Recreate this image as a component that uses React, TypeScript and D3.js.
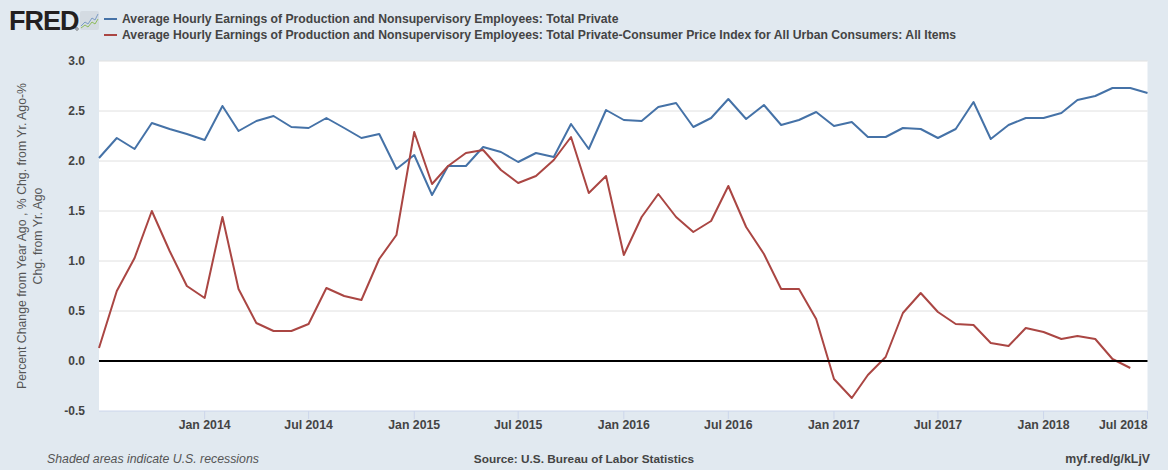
import * as d3 from "d3";

const W = 1168;
const H = 470;

// months Jul 2013 .. Jul 2018
const startMonth = new Date(2013, 6, 1);
const months: Date[] = d3.timeMonth.range(startMonth, new Date(2018, 7, 1));

const earnings: number[] = [
  2.03, 2.23, 2.12, 2.38, 2.32, 2.27,
  2.21, 2.55, 2.30, 2.40, 2.45, 2.34, 2.33, 2.43, 2.33, 2.23, 2.27, 1.92,
  2.06, 1.66, 1.95, 1.95, 2.14, 2.09, 1.99, 2.08, 2.04, 2.37, 2.12, 2.51,
  2.41, 2.40, 2.54, 2.58, 2.34, 2.43, 2.62, 2.42, 2.56, 2.36, 2.41, 2.49,
  2.35, 2.39, 2.24, 2.24, 2.33, 2.32, 2.23, 2.32, 2.59, 2.22, 2.36, 2.43,
  2.43, 2.48, 2.61, 2.65, 2.73, 2.73, 2.68,
];

const realEarnings: number[] = [
  0.13, 0.70, 1.03, 1.50, 1.10, 0.75,
  0.63, 1.44, 0.72, 0.38, 0.30, 0.30, 0.37, 0.73, 0.65, 0.61, 1.02, 1.26,
  2.29, 1.77, 1.95, 2.08, 2.11, 1.91, 1.78, 1.85, 2.01, 2.24, 1.68, 1.85,
  1.06, 1.44, 1.67, 1.44, 1.29, 1.40, 1.75, 1.34, 1.07, 0.72, 0.72, 0.42,
  -0.18, -0.37, -0.14, 0.04, 0.48, 0.68, 0.49, 0.37, 0.36, 0.18, 0.15, 0.33,
  0.29, 0.22, 0.25, 0.22, 0.02, -0.07,
];

const yTicks: number[] = [-0.5, 0, 0.5, 1.0, 1.5, 2.0, 2.5, 3.0];

const seriesNames: string[] = [
  "Average Hourly Earnings of Production and Nonsupervisory Employees: Total Private",
  "Average Hourly Earnings of Production and Nonsupervisory Employees: Total Private-Consumer Price Index for All Urban Consumers: All Items",
];

const yTitle: string[] = [
  "Percent Change from Year Ago , % Chg. from Yr. Ago-%",
  "Chg. from Yr. Ago",
];

const BLUE = "#4572a7";
const RED = "#aa4643";
const TEXT = "#444";
const FONT = "'Liberation Sans', Arial, sans-serif";

const App = () => {
  const left = 99;
  const right = 1147.5;
  const top = 61;
  const bottom = 411;

  const x = d3
    .scaleTime()
    .domain([startMonth, new Date(2018, 6, 1)])
    .range([left, right]);

  const y = d3.scaleLinear().domain([-0.5, 3.0]).range([bottom, top]);

  const xTicks = d3.timeMonth.every(6)!.range(new Date(2014, 0, 1), new Date(2018, 7, 1));
  const fmt = d3.timeFormat("%b %Y");

  const line = d3
    .line<number>()
    .x((_, i) => x(months[i]))
    .y((d) => y(d));

  return (
    <svg
      width={W}
      height={H}
      style={{ position: "absolute", left: 0, top: 0 }}
      fontFamily={FONT}
    >
      <rect width={W} height={H} fill="#e1e9f0" />

      {/* header */}
      <text x={9} y={30} fontSize={27} fontWeight="bold" fill="#231f20" letterSpacing={-1}>
        FRED
      </text>
      <circle cx={77} cy={29} r={1.3} fill="none" stroke="#231f20" strokeWidth={0.5} />
      <g transform="translate(80,11)">
        <rect width={19} height={19} rx={2} fill="#d4dbe2" />
        <polyline points="1,15 5,11 8,13 12,7 15,9 18,3" fill="none" stroke="#7b9cc4" strokeWidth={1} />
        <polyline points="1,17 5,14 8,16 12,11 15,13 18,8" fill="none" stroke="#8dbb5a" strokeWidth={1} />
      </g>
      {seriesNames.map((name, i) => (
        <g key={name}>
          <line
            x1={104}
            x2={117}
            y1={19 + i * 16}
            y2={19 + i * 16}
            stroke={i === 0 ? BLUE : RED}
            strokeWidth={2}
          />
          <text x={122} y={23 + i * 16} fontSize={12.2} fontWeight="bold" fill={TEXT}>
            {name}
          </text>
        </g>
      ))}

      {/* plot area */}
      <rect x={left} y={top} width={right - left} height={bottom - top} fill="#fff" />
      {yTicks.map((t) => (
        <g key={t}>
          {t !== 0 && t !== -0.5 && (
            <line x1={left} x2={right} y1={y(t)} y2={y(t)} stroke="#e0e0e0" strokeWidth={1} />
          )}
          <text
            x={85}
            y={y(t) + 4}
            textAnchor="end"
            fontSize={12}
            fontWeight="bold"
            fill={TEXT}
          >
            {t.toFixed(1)}
          </text>
        </g>
      ))}
      <line x1={left} x2={right} y1={bottom} y2={bottom} stroke="#ccd6eb" strokeWidth={1} />
      {xTicks.map((d, i) => {
        const last = i === xTicks.length - 1;
        return (
          <g key={+d}>
            <line x1={x(d)} x2={x(d)} y1={bottom} y2={bottom + 8} stroke="#ccd6eb" strokeWidth={1} />
            <text
              x={last ? right : x(d)}
              y={429}
              textAnchor={last ? "end" : "middle"}
              fontSize={12.3}
              fontWeight="bold"
              fill={TEXT}
            >
              {fmt(d)}
            </text>
          </g>
        );
      })}

      <path d={line(earnings) ?? ""} fill="none" stroke={BLUE} strokeWidth={2} strokeLinejoin="round" />
      <path d={line(realEarnings) ?? ""} fill="none" stroke={RED} strokeWidth={2} strokeLinejoin="round" />
      <line x1={left} x2={right} y1={y(0)} y2={y(0)} stroke="#000" strokeWidth={2} />

      {/* y title */}
      <g transform="translate(0,236) rotate(-90)">
        {yTitle.map((t, i) => (
          <text key={t} x={0} y={26 + i * 16} textAnchor="middle" fontSize={12.3} fill="#555">
            {t}
          </text>
        ))}
      </g>

      {/* footer */}
      <text x={47} y={463} fontSize={12.3} fontStyle="italic" fill="#555">
        Shaded areas indicate U.S. recessions
      </text>
      <text x={584} y={463} textAnchor="middle" fontSize={11.8} fontWeight="bold" fill={TEXT}>
        Source: U.S. Bureau of Labor Statistics
      </text>
      <text x={1150} y={463} textAnchor="end" fontSize={12.3} fontWeight="bold" fill={TEXT}>
        myf.red/g/kLjV
      </text>
    </svg>
  );
};

export default App;
